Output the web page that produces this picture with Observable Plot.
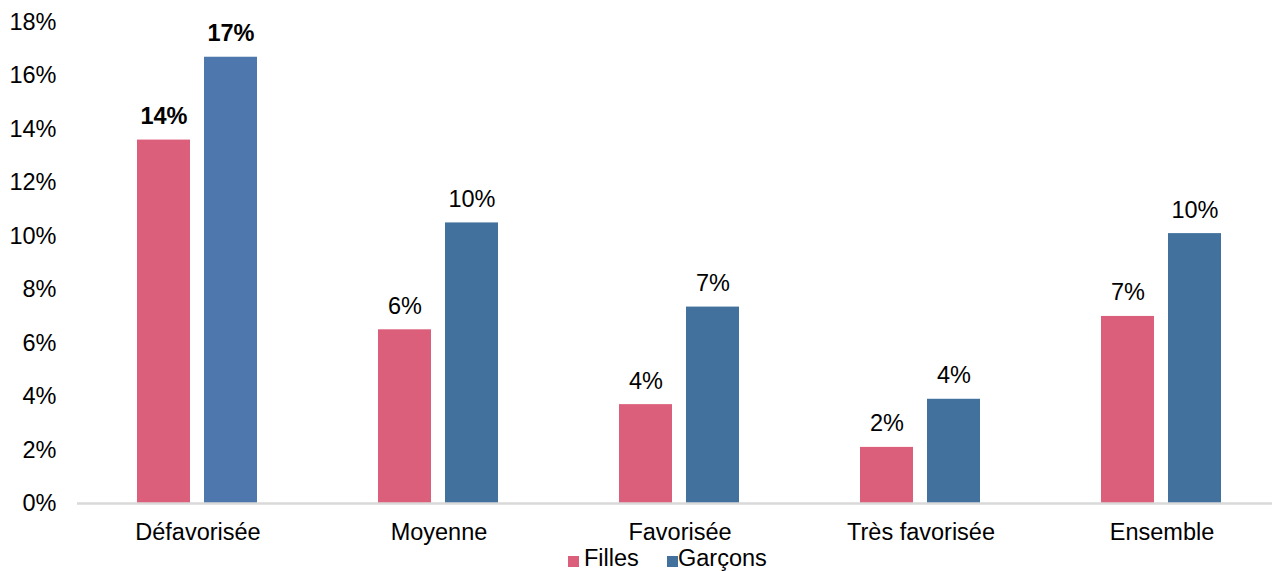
<!DOCTYPE html>
<html>
<head>
<meta charset="utf-8">
<script src="https://cdn.jsdelivr.net/npm/d3@7"></script>
<script src="https://cdn.jsdelivr.net/npm/@observablehq/plot@0.6"></script>
<style>
  html, body { margin: 0; padding: 0; background: #fff; }
  #wrap { position: relative; width: 1272px; height: 571px; overflow: hidden; font-family: "Liberation Sans", Arial, sans-serif; }
  #chart svg { max-width: none !important; }
  #legend { position: absolute; left: 0; top: 0; width: 1272px; height: 571px; pointer-events: none; font-size: 23.5px; color: #000; }
  .sw { position: absolute; width: 11px; height: 11px; top: 556px; }
  .lt { position: absolute; top: 545px; line-height: 27px; white-space: nowrap; }
</style>
</head>
<body>
<div id="wrap">
  <div id="chart"></div>
  <div id="legend"></div>
</div>
<script>
const categories = ["Défavorisée", "Moyenne", "Favorisée", "Très favorisée", "Ensemble"];
const series = ["Filles", "Garçons"];
const filles = [13.6, 6.5, 3.7, 2.1, 7.0];
const garcons = [16.7, 10.5, 7.35, 3.9, 10.1];
const labelsFilles = ["14%", "6%", "4%", "2%", "7%"];
const labelsGarcons = ["17%", "10%", "7%", "4%", "10%"];
const yTicks = [0, 2, 4, 6, 8, 10, 12, 14, 16, 18];

const PINK = "#DB5F7B";
const BLUE = "#41719C";
const BLUE_HL = "#4E77AE";

const data = [];
categories.forEach((c, i) => {
  data.push({cat: c, sexe: series[0], v: filles[i], label: labelsFilles[i]});
  data.push({cat: c, sexe: series[1], v: garcons[i], label: labelsGarcons[i]});
});
const fillOf = d => d.sexe === "Filles" ? PINK : (d.cat === "Défavorisée" ? BLUE_HL : BLUE);
const isHL = d => d.cat === "Défavorisée";

const chart = Plot.plot({
  width: 1283,
  height: 550,
  marginLeft: 75,
  marginRight: 0,
  marginTop: 22,
  marginBottom: 47,
  style: {fontFamily: "'Liberation Sans', Arial, sans-serif", fontSize: "23.5px", color: "#000", background: "#fff", maxWidth: "none"},
  fx: {domain: categories, padding: 0, label: null, tickSize: 0, tickPadding: 20},
  x: {domain: series, paddingInner: 0.206, paddingOuter: 0.88, axis: null},
  y: {domain: [0, 18], ticks: yTicks, tickFormat: d => d + "%", label: null, tickSize: 0, tickPadding: 21},
  marks: [
    Plot.barY(data, {fx: "cat", x: "sexe", y: "v", fill: fillOf}),
    Plot.ruleY([0], {stroke: "#D9D9D9", strokeWidth: 2.5}),
    Plot.text(data.filter(d => !isHL(d)), {fx: "cat", x: "sexe", y: "v", text: "label", dy: -23.5, fill: "#000"}),
    Plot.text(data.filter(isHL), {fx: "cat", x: "sexe", y: "v", text: "label", dy: -23.5, fill: "#000", fontWeight: "bold"})
  ]
});
document.getElementById("chart").appendChild(chart);

// legend
const legend = document.getElementById("legend");
const items = [
  {name: series[0], color: PINK, sx: 568, tx: 584},
  {name: series[1], color: BLUE, sx: 667, tx: 678}
];
items.forEach(it => {
  const s = document.createElement("div");
  s.className = "sw"; s.style.left = it.sx + "px"; s.style.background = it.color;
  legend.appendChild(s);
  const t = document.createElement("div");
  t.className = "lt"; t.style.left = it.tx + "px"; t.textContent = it.name;
  legend.appendChild(t);
});
</script>
</body>
</html>
